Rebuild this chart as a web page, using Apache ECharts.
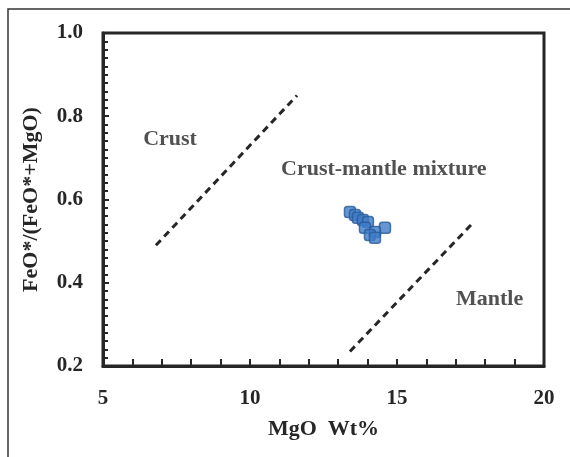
<!DOCTYPE html>
<html>
<head>
<meta charset="utf-8">
<style>
  html, body { margin: 0; padding: 0; background: #fff; }
  #chart { width: 570px; height: 457px; }
</style>
<script src="https://cdn.jsdelivr.net/npm/echarts@6/dist/echarts.min.js"></script>
</head>
<body>
<div id="chart"></div>
<script>
// Sample compositions: MgO (wt%) and FeO*/(FeO*+MgO)
const mgo   = [13.40, 13.57, 13.67, 13.84, 14.01, 13.91, 14.59, 14.25, 14.08, 14.25];
const feoR  = [0.570, 0.563, 0.556, 0.551, 0.546, 0.532, 0.532, 0.522, 0.515, 0.508];

// Boundary lines between fields
const crustLine  = [[6.8, 0.49], [11.6, 0.85]];
const mantleLine = [[13.4, 0.235], [17.6, 0.545]];

// Field names and their anchor positions
const fieldNames = ['Crust', 'Crust-mantle mixture', 'Mantle'];
const fieldPos   = [[7.28, 0.745], [14.55, 0.672], [18.15, 0.36]];

// Axis ranges and ticks
const xRange = [5, 20], xStep = 5, xMinorStep = 1;
const yRange = [0.2, 1.0], yStep = 0.2;

const serif = '"Liberation Serif", "DejaVu Serif", serif';
const ink = '#262626';

const chart = echarts.init(document.getElementById('chart'));

const dashStyle = { color: ink, width: 3, type: [7, 5] };

chart.setOption({
  animation: false,
  grid: {
    left: 103, right: 26, top: 33, bottom: 91,
    show: true, borderColor: ink, borderWidth: 3, backgroundColor: 'transparent'
  },
  graphic: [{
    type: 'rect',
    shape: { x: 8, y: 9, width: 600, height: 470 },
    style: { fill: 'none', stroke: '#333', lineWidth: 1.5 },
    silent: true, z: -1
  }],
  xAxis: [{
    type: 'value', min: xRange[0], max: xRange[1], interval: xStep,
    name: 'MgO  Wt%', nameLocation: 'middle', nameGap: 52,
    nameTextStyle: { fontFamily: serif, fontWeight: 'bold', fontSize: 22, color: ink },
    axisLine: { show: true, lineStyle: { color: ink, width: 3 } },
    axisTick: { show: false },
    axisLabel: { fontFamily: serif, fontWeight: 'bold', fontSize: 21, color: ink, margin: 22 },
    splitLine: { show: false }
  }, {
    // unit ticks along the bottom edge, pointing into the plot
    type: 'value', min: xRange[0], max: xRange[1], interval: xMinorStep,
    position: 'bottom', offset: 0,
    axisLine: { show: false },
    axisTick: { show: true, inside: true, length: 7, lineStyle: { color: ink, width: 2 } },
    axisLabel: { show: false },
    splitLine: { show: false },
    z: 10
  }],
  yAxis: {
    type: 'value', min: yRange[0], max: yRange[1], interval: yStep,
    name: 'FeO*/(FeO*+MgO)', nameLocation: 'middle', nameGap: 61,
    nameTextStyle: { fontFamily: serif, fontWeight: 'bold', fontSize: 22, color: ink },
    axisLine: { show: true, lineStyle: { color: ink, width: 3 } },
    axisTick: { show: true, inside: true, length: 6, lineStyle: { color: ink, width: 2 } },
    minorTick: { show: true, splitNumber: 10, length: 5, lineStyle: { color: ink, width: 2 } },
    axisLabel: {
      fontFamily: serif, fontWeight: 'bold', fontSize: 21, color: ink, margin: 20,
      formatter: v => v.toFixed(1)
    },
    splitLine: { show: false }
  },
  series: [
    {
      type: 'line', data: crustLine, symbol: 'none', lineStyle: dashStyle, silent: true
    },
    {
      type: 'line', data: mantleLine, symbol: 'none', lineStyle: dashStyle, silent: true
    },
    {
      type: 'scatter',
      data: fieldPos.map((p, i) => ({ value: p, name: fieldNames[i] })),
      symbolSize: 0,
      label: {
        show: true, position: 'inside', formatter: '{b}',
        fontFamily: serif, fontWeight: 'bold', fontSize: 22, color: ink
      },
      silent: true
    },
    {
      type: 'scatter',
      data: mgo.map((x, i) => [x, feoR[i]]),
      symbol: 'roundRect', symbolSize: 11,
      itemStyle: { color: '#3f7cc6', borderColor: '#285a9a', borderWidth: 1.5 },
      z: 5
    }
  ]
});
</script>
</body>
</html>
